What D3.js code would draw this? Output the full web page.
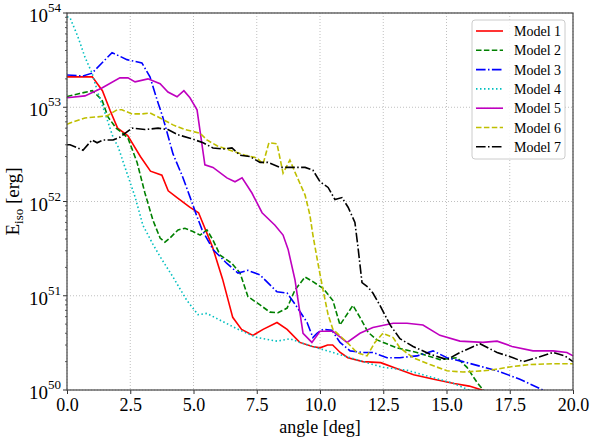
<!DOCTYPE html>
<html>
<head>
<meta charset="utf-8" />
<title>E_iso vs angle</title>
<script src="https://d3js.org/d3.v7.min.js"></script>
<style>
    body { margin: 0; background: #fff; }
    svg text { font-family: "Liberation Serif", "DejaVu Serif", serif; fill: #000; }
</style>
</head>
<body>
<svg id="chart" width="590" height="441"></svg>
<script>
    // data: [angle (deg), E_iso (erg)]
    var model1 = [[0, 2.1e53], [1.0, 2.1e53], [1.4, 1.5e53], [1.7, 9.3e52], [2.0, 6.0e52], [2.4, 5.0e52],
        [2.9, 3.0e52], [3.3, 2.1e52], [3.75, 1.9e52], [4.0, 1.3e52], [4.35, 1.1e52], [4.85, 8.7e51],
        [5.2, 7.6e51], [5.75, 3.3e51], [6.15, 1.5e51], [6.55, 5.9e50], [6.9, 4.4e50], [7.35, 3.8e50],
        [7.75, 4.4e50], [8.3, 5.2e50], [8.7, 4.4e50], [9.2, 3.2e50], [9.7, 2.9e50], [10.0, 2.8e50],
        [10.3, 3.0e50], [10.5, 3.0e50], [10.8, 2.5e50], [11.1, 2.2e50], [11.7, 2.0e50], [12.4, 1.95e50],
        [13.0, 1.7e50], [13.7, 1.45e50], [14.5, 1.3e50], [15.3, 1.17e50], [15.9, 1.1e50], [16.4, 1.0e50],
        [16.8, 0.9e50]];
    var model2 = [[0, 1.3e53], [0.5, 1.4e53], [1.0, 1.5e53], [1.38, 1.2e53], [1.62, 7.9e52], [1.94, 6.0e52],
        [2.17, 5.4e52], [2.41, 4.7e52], [2.77, 2.6e52], [3.08, 1.23e52], [3.4, 6.3e51], [3.68, 4.1e51],
        [3.87, 3.7e51], [4.07, 4.1e51], [4.39, 5.0e51], [4.66, 5.2e51], [4.98, 4.8e51], [5.26, 4.4e51],
        [5.53, 5.0e51], [5.77, 3.9e51], [6.05, 2.7e51], [6.52, 2.2e51], [6.84, 1.74e51], [7.15, 9.8e50],
        [7.63, 8.0e50], [8.02, 6.7e50], [8.34, 6.6e50], [8.7, 7.4e50], [9.01, 1.15e51], [9.41, 1.58e51],
        [9.72, 1.41e51], [10.12, 1.2e51], [10.51, 8.9e50], [10.79, 4.9e50], [11.3, 7.9e50], [11.58, 5.9e50],
        [11.9, 4.1e50], [12.25, 3.4e50], [13.04, 2.8e50], [13.83, 2.5e50], [14.74, 2.1e50], [15.42, 2.2e50],
        [15.81, 1.74e50], [16.21, 1.2e50], [16.52, 0.95e50], [16.8, 0.8e50]];
    var model3 = [[0, 2.2e53], [0.63, 2.15e53], [0.99, 2.3e53], [1.38, 2.95e53], [1.78, 3.8e53], [2.37, 3.2e53],
        [2.96, 2.95e53], [3.28, 2.1e53], [3.56, 1.2e53], [3.79, 7.8e52], [4.19, 3.2e52], [4.58, 1.8e52],
        [4.86, 1.12e52], [5.14, 6.9e51], [5.34, 5.0e51], [5.77, 3.1e51], [6.32, 2.2e51], [6.76, 1.74e51],
        [7.15, 1.86e51], [7.63, 1.66e51], [8.3, 1.1e51], [8.7, 1.07e51], [9.09, 7.6e50], [9.49, 5.2e50],
        [9.72, 3.6e50], [9.88, 4.0e50], [10.12, 4.4e50], [10.47, 4.3e50], [10.79, 3.2e50], [11.19, 2.6e50],
        [11.7, 2.5e50], [12.09, 2.5e50], [12.65, 2.2e50], [13.16, 2.2e50], [13.83, 2.3e50], [14.47, 2.6e50],
        [15.02, 2.2e50], [15.65, 2.0e50], [17.0, 1.6e50], [17.9, 1.3e50], [18.81, 1.0e50], [19.3, 0.85e50]];
    var model4 = [[0, 9.1e53], [0.12, 8.9e53], [0.43, 5.6e53], [0.71, 3.4e53], [0.99, 2.3e53], [1.23, 1.4e53],
        [1.5, 8.7e52], [1.82, 4.8e52], [2.02, 3.8e52], [2.37, 2.0e52], [2.69, 1.12e52], [3.0, 5.6e51],
        [3.4, 3.5e51], [3.68, 2.6e51], [4.19, 1.58e51], [4.74, 8.9e50], [5.18, 6.3e50], [5.53, 6.5e50],
        [6.17, 5.3e50], [6.84, 4.3e50], [7.51, 3.6e50], [8.3, 3.3e50], [8.81, 3.5e50], [9.21, 3.2e50],
        [9.88, 2.8e50], [10.51, 2.5e50], [11.7, 2.0e50], [12.49, 1.74e50], [13.44, 1.62e50], [14.35, 1.38e50],
        [15.26, 1.18e50], [15.81, 1.02e50], [16.3, 0.9e50]];
    var model5 = [[0, 1.26e53], [0.71, 1.32e53], [1.38, 1.6e53], [2.09, 2.05e53], [2.41, 2.05e53], [2.69, 1.86e53],
        [3.2, 2.0e53], [3.68, 1.78e53], [3.99, 1.45e53], [4.35, 1.29e53], [4.62, 1.5e53], [4.86, 1.26e53],
        [5.14, 9.4e52], [5.45, 2.45e52], [5.77, 2.3e52], [6.32, 1.78e52], [6.64, 1.62e52], [6.92, 1.78e52],
        [7.31, 1.23e52], [7.71, 7.6e51], [8.22, 5.6e51], [8.54, 4.4e51], [8.74, 3.1e51], [9.01, 1.48e51],
        [9.33, 4.0e50], [9.68, 3.2e50], [10.0, 4.2e50], [10.51, 4.2e50], [11.07, 3.2e50], [11.58, 4.0e50],
        [12.09, 4.6e50], [12.89, 5.1e50], [13.44, 5.1e50], [14.07, 4.9e50], [14.74, 3.8e50], [15.53, 3.3e50],
        [16.44, 3.2e50], [17.0, 3.3e50], [17.59, 2.9e50], [18.42, 2.6e50], [19.21, 2.6e50], [19.76, 2.5e50],
        [20.0, 2.3e50]];
    var model6 = [[0, 6.6e52], [0.12, 6.8e52], [0.71, 7.7e52], [1.19, 7.9e52], [1.58, 8.1e52], [1.98, 9.4e52],
        [2.17, 9.4e52], [2.57, 8.5e52], [2.96, 8.5e52], [3.28, 8.7e52], [3.68, 7.7e52], [4.19, 6.5e52],
        [4.66, 5.8e52], [5.26, 5.3e52], [5.53, 4.5e52], [5.93, 3.9e52], [6.44, 3.5e52], [7.04, 3.1e52],
        [7.51, 2.9e52], [7.75, 2.5e52], [7.98, 4.2e52], [8.3, 4.1e52], [8.54, 2.0e52], [8.81, 2.75e52],
        [9.01, 2.05e52], [9.41, 1.17e52], [9.6, 7.2e51], [9.72, 4.4e51], [9.92, 2.2e51], [10.12, 1.15e51],
        [10.32, 6.3e50], [10.51, 4.4e50], [11.07, 3.2e50], [11.46, 2.5e50], [11.86, 2.3e50], [12.17, 3.2e50],
        [12.49, 4.0e50], [12.89, 3.6e50], [13.16, 2.8e50], [13.68, 2.2e50], [14.35, 1.86e50], [15.02, 1.6e50],
        [15.65, 1.55e50], [16.72, 1.62e50], [17.63, 1.78e50], [18.3, 1.86e50], [19.21, 1.9e50], [20.0, 1.9e50]];
    var model7 = [[0, 4.0e52], [0.12, 4.0e52], [0.63, 3.5e52], [0.99, 4.5e52], [1.19, 4.2e52], [1.42, 4.5e52],
        [1.82, 4.5e52], [2.09, 4.8e52], [2.57, 6.0e52], [3.08, 5.8e52], [3.6, 6.0e52], [3.99, 5.8e52],
        [4.39, 5.1e52], [4.86, 4.7e52], [5.38, 4.2e52], [5.77, 3.7e52], [6.17, 3.6e52], [6.52, 3.7e52],
        [6.84, 3.1e52], [7.23, 3.0e52], [7.63, 2.6e52], [7.94, 2.6e52], [8.42, 2.3e52], [8.93, 2.3e52],
        [9.41, 2.3e52], [9.72, 2.15e52], [10.0, 1.62e52], [10.32, 1.41e52], [10.59, 1.05e52], [10.87, 1.1e52],
        [11.11, 8.7e51], [11.38, 6.0e51], [11.5, 3.3e51], [11.66, 1.38e51], [11.9, 1.23e51], [12.09, 1.07e51],
        [12.37, 7.9e50], [12.77, 4.9e50], [13.16, 3.5e50], [13.68, 2.9e50], [14.35, 2.4e50], [15.02, 2.1e50],
        [15.53, 2.5e50], [16.32, 3.1e50], [17.0, 2.5e50], [17.63, 2.2e50], [18.02, 2.0e50], [18.58, 2.2e50],
        [19.21, 2.5e50], [19.68, 2.3e50], [20.0, 2.0e50]];

    var modelNames = ["Model 1", "Model 2", "Model 3", "Model 4", "Model 5", "Model 6", "Model 7"];
    var xTicks = [0, 2.5, 5, 7.5, 10, 12.5, 15, 17.5, 20];
    var yExponents = [50, 51, 52, 53, 54];

    var series = [model1, model2, model3, model4, model5, model6, model7];

    // matplotlib-like styles
    var colors = ["#ff0000", "#008000", "#0000ff", "#00bfbf", "#bf00bf", "#bfbf00", "#000000"];
    var dashes = [null, "5.5,2.4", "9.6,2.4,1.5,2.4", "1.5,2.5", null, "5.5,2.4", "9.6,2.4,1.5,2.4"];

    var margin = { top: 13, right: 17, bottom: 51, left: 67 },
        width = 590 - margin.left - margin.right,
        height = 441 - margin.top - margin.bottom;

    var svg = d3.select("#chart");
    var g = svg.append("g").attr("transform", "translate(" + margin.left + "," + margin.top + ")");

    var x = d3.scaleLinear().domain([0, 20]).range([0, width]);
    var y = d3.scaleLog().domain([1e50, 1e54]).range([height, 0]);

    svg.append("defs").append("clipPath").attr("id", "clip")
        .append("rect").attr("width", width).attr("height", height);

    // grid
    g.append("g").selectAll("line").data(xTicks).enter().append("line")
        .attr("x1", function (d) { return x(d); }).attr("x2", function (d) { return x(d); })
        .attr("y1", 0).attr("y2", height)
        .style("stroke", "#b0b0b0").style("stroke-width", 0.8).style("stroke-dasharray", "1,2");
    g.append("g").selectAll("line").data(yExponents).enter().append("line")
        .attr("x1", 0).attr("x2", width)
        .attr("y1", function (d) { return y(Math.pow(10, d)); }).attr("y2", function (d) { return y(Math.pow(10, d)); })
        .style("stroke", "#b0b0b0").style("stroke-width", 0.8).style("stroke-dasharray", "1,2");

    // curves
    var line = d3.line()
        .x(function (d) { return x(d[0]); })
        .y(function (d) { return y(d[1]); });

    g.append("g").attr("clip-path", "url(#clip)")
        .selectAll("path").data(series).enter().append("path")
        .attr("d", line)
        .style("fill", "none")
        .style("stroke", function (d, i) { return colors[i]; })
        .style("stroke-width", 1.6)
        .style("stroke-dasharray", function (d, i) { return dashes[i]; });

    // x axis
    var xAxis = g.append("g").attr("transform", "translate(0," + height + ")")
        .call(d3.axisBottom(x).tickValues(xTicks).tickFormat(d3.format(".1f")).tickSize(4).tickPadding(4));
    xAxis.select(".domain").remove();
    xAxis.selectAll("line").style("stroke", "#333");
    xAxis.selectAll("text").style("font-size", "18px").attr("fill", "#000");

    // y axis: minor ticks + major ticks with superscript labels
    var minor = [];
    yExponents.slice(0, -1).forEach(function (e) {
        for (var k = 2; k < 10; k++) minor.push(k * Math.pow(10, e));
    });
    g.append("g").selectAll("line").data(minor).enter().append("line")
        .attr("x1", -2).attr("x2", 0)
        .attr("y1", function (d) { return y(d); }).attr("y2", function (d) { return y(d); })
        .style("stroke", "#333").style("stroke-width", 0.8);
    var yMajor = g.append("g").selectAll("g").data(yExponents).enter().append("g")
        .attr("transform", function (d) { return "translate(0," + y(Math.pow(10, d)) + ")"; });
    yMajor.append("line").attr("x1", -4).attr("x2", 0).style("stroke", "#333").style("stroke-width", 1);
    var lab = yMajor.append("text").attr("x", -6).attr("y", 9).attr("text-anchor", "end");
    lab.append("tspan").style("font-size", "19px").text("10");
    lab.append("tspan").attr("dy", -10).style("font-size", "13px").text(function (d) { return d; });

    // frame
    g.append("rect").attr("width", width).attr("height", height)
        .style("fill", "none").style("stroke", "#444").style("stroke-width", 1.2);

    // axis labels
    svg.append("text")
        .attr("x", margin.left + width / 2).attr("y", 433)
        .attr("text-anchor", "middle").style("font-size", "18px")
        .text("angle [deg]");
    var yl = svg.append("text")
        .attr("transform", "translate(19," + (margin.top + height / 2) + ") rotate(-90)")
        .attr("text-anchor", "middle").style("font-size", "19px");
    yl.append("tspan").text("E");
    yl.append("tspan").attr("dy", 4).style("font-size", "13px").text("iso");
    yl.append("tspan").attr("dy", -4).text(" [erg]");

    // legend
    var legend = svg.append("g").attr("transform", "translate(472,20)");
    legend.append("rect").attr("width", 93).attr("height", 139).attr("rx", 3)
        .style("fill", "#fff").style("fill-opacity", 0.85).style("stroke", "#ccc").style("stroke-width", 1);
    var item = legend.selectAll("g.item").data(modelNames).enter().append("g")
        .attr("class", "item")
        .attr("transform", function (d, i) { return "translate(0," + (11 + i * 19.3) + ")"; });
    item.append("line").attr("x1", 4).attr("x2", 31)
        .style("stroke", function (d, i) { return colors[i]; })
        .style("stroke-width", 1.6)
        .style("stroke-dasharray", function (d, i) { return dashes[i]; });
    item.append("text").attr("x", 42).attr("y", 5).style("font-size", "14px").text(function (d) { return d; });
</script>
</body>
</html>
